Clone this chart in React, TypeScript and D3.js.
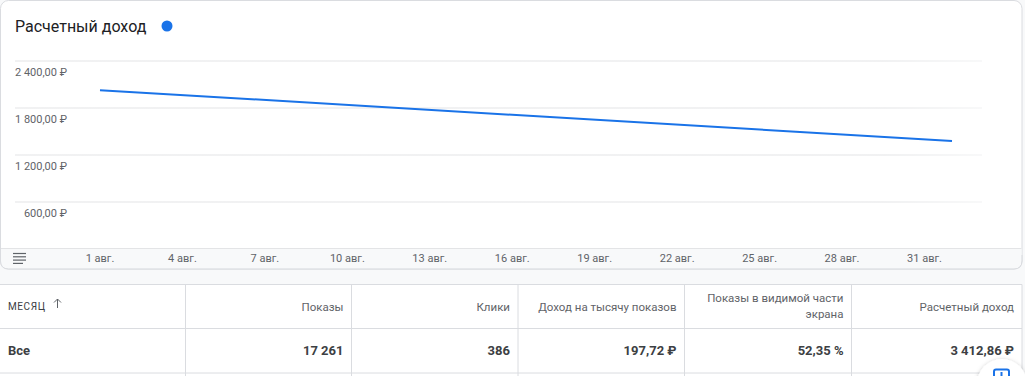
import React from "react";
import * as d3 from "d3";

const title = "Расчетный доход";
const seriesDates = [new Date(Date.UTC(2023, 7, 1)), new Date(Date.UTC(2023, 8, 1))];
const seriesValues = [2031.5, 1381.36];
const yTicks = [600, 1200, 1800, 2400];
const xTickDays = [1, 4, 7, 10, 13, 16, 19, 22, 25, 28, 31];

const tableHeaders = [
  ["Показы"],
  ["Клики"],
  ["Доход на тысячу показов"],
  ["Показы в видимой части", "экрана"],
  ["Расчетный доход"],
];
const firstHeader = "МЕСЯЦ";
const rowLabel = "Все";
const rowValues = ["17 261", "386", "197,72 ₽", "52,35 %", "3 412,86 ₽"];

const W = 1025;
const H = 376;
const FONT = "Roboto, 'Noto Sans', sans-serif";

const fmtY = (v: number) =>
  d3.format(",.2f")(v).replace(/,/g, " ").replace(".", ",") + " ₽";

export default function App() {
  const x = d3
    .scaleUtc()
    .domain([seriesDates[0], seriesDates[1]])
    .range([100, 952]);
  const y = d3.scaleLinear().domain([0, 2400]).range([249.3, 61.3]);
  const line = d3
    .line<number>()
    .x((_, i) => x(seriesDates[i]))
    .y((d) => y(d));

  const colEdges = [0, 185.5, 351.5, 518, 684.5, 851.5, 1022];
  const tTop = 284.5;
  const tMid = 328.5;
  const tBot = 373;

  return (
    <svg
      width={W}
      height={H}
      style={{ position: "absolute", left: 0, top: 0, background: "#f8f9fa" }}
      fontFamily={FONT}
    >
      <defs>
        <linearGradient id="gfade" x1="0" x2="1" y1="0" y2="0">
          <stop offset="0.9" stopColor="#e3e4e6" />
          <stop offset="1" stopColor="#f1f2f3" />
        </linearGradient>
        <filter id="sh" x="-50%" y="-50%" width="200%" height="200%">
          <feDropShadow dx="0" dy="1" stdDeviation="2" floodColor="#000" floodOpacity="0.25" />
        </filter>
      </defs>
      {/* card */}
      <rect x={0.5} y={0.5} width={1021.5} height={268.5} rx={8} fill="#fff" stroke="#dadce0" />
      <text x={15} y={32} fontSize={16} fill="#202124">
        {title}
      </text>
      <circle cx={167} cy={26} r={5.5} fill="#1a73e8" />

      {/* gridlines */}
      {yTicks.map((t) => (
        <g key={t}>
          <rect x={15} y={Math.round(y(t)) - 0.5} width={967} height={1} fill="url(#gfade)" />
          <text x={67} y={y(t) + 15} fontSize={11} fill="#5f6368" textAnchor="end">
            {fmtY(t)}
          </text>
        </g>
      ))}

      {/* axis band */}
      <path
        d="M1,248.5 H1021.5 V261 Q1021.5,268.5 1014,268.5 H8 Q1,268.5 1,261 Z"
        fill="#f8f9fa"
        stroke="none"
      />
      <line x1={1} x2={1021.5} y1={248.5} y2={248.5} stroke="#e3e4e6" />
      <path
        d="M0.5,255 V261 Q0.5,269 8.5,269 H1014 Q1022,269 1022,261 V255"
        fill="none"
        stroke="#dadce0"
      />
      {[253.5, 256.8, 260.1, 263.4].map((yy, i) => (
        <line key={i} x1={13} x2={i === 3 ? 23 : 26} y1={yy} y2={yy} stroke="#5f6368" strokeWidth={1.2} />
      ))}
      {xTickDays.map((d) => (
        <text
          key={d}
          x={x(new Date(Date.UTC(2023, 7, d)))}
          y={262}
          fontSize={11}
          fill="#5f6368"
          textAnchor="middle"
        >
          {d + " авг."}
        </text>
      ))}

      {/* line */}
      <path d={line(seriesValues) || ""} fill="none" stroke="#1a73e8" strokeWidth={2} />

      {/* table */}
      <rect x={0} y={tTop} width={1022} height={tBot - tTop + 3} fill="#fff" />
      <line x1={0} x2={1022} y1={tTop} y2={tTop} stroke="#dadce0" />
      <line x1={0} x2={1022} y1={tMid} y2={tMid} stroke="#dadce0" />
      <line x1={0} x2={1022} y1={tBot} y2={tBot} stroke="#dadce0" />
      {colEdges.slice(1).map((cx, i) => (
        <line key={i} x1={cx} x2={cx} y1={tTop} y2={H} stroke="#dadce0" />
      ))}
      <text x={8} y={310} fontSize={10} fill="#3c4043" letterSpacing={0.6}>
        {firstHeader}
      </text>
      <path d="M57.5,308 V299 M54,302.5 L57.5,299 L61,302.5" fill="none" stroke="#5f6368" strokeWidth={1} />
      {tableHeaders.map((lines, i) => {
        const rx = colEdges[i + 2] - 8;
        const startY = lines.length === 1 ? 310.5 : 302;
        return (
          <text key={i} fontSize={11.5} fill="#5f6368" textAnchor="end">
            {lines.map((l, j) => (
              <tspan key={j} x={rx} y={startY + j * 16}>
                {l}
              </tspan>
            ))}
          </text>
        );
      })}
      <text x={8} y={355} fontSize={13} fontWeight={700} fill="#3c4043">
        {rowLabel}
      </text>
      {rowValues.map((v, i) => (
        <text
          key={i}
          x={colEdges[i + 2] - 8}
          y={355}
          fontSize={13}
          fontWeight={700}
          fill="#3c4043"
          textAnchor="end"
        >
          {v}
        </text>
      ))}

      {/* floating button */}
      <circle cx={1002} cy={384} r={25} fill="#fff" filter="url(#sh)" />
      <rect x={994} y={369.5} width={15} height={15} rx={2} fill="none" stroke="#1a73e8" strokeWidth={2} />
      <line x1={1001.5} x2={1001.5} y1={372} y2={382} stroke="#1a73e8" strokeWidth={2} />
    </svg>
  );
}
